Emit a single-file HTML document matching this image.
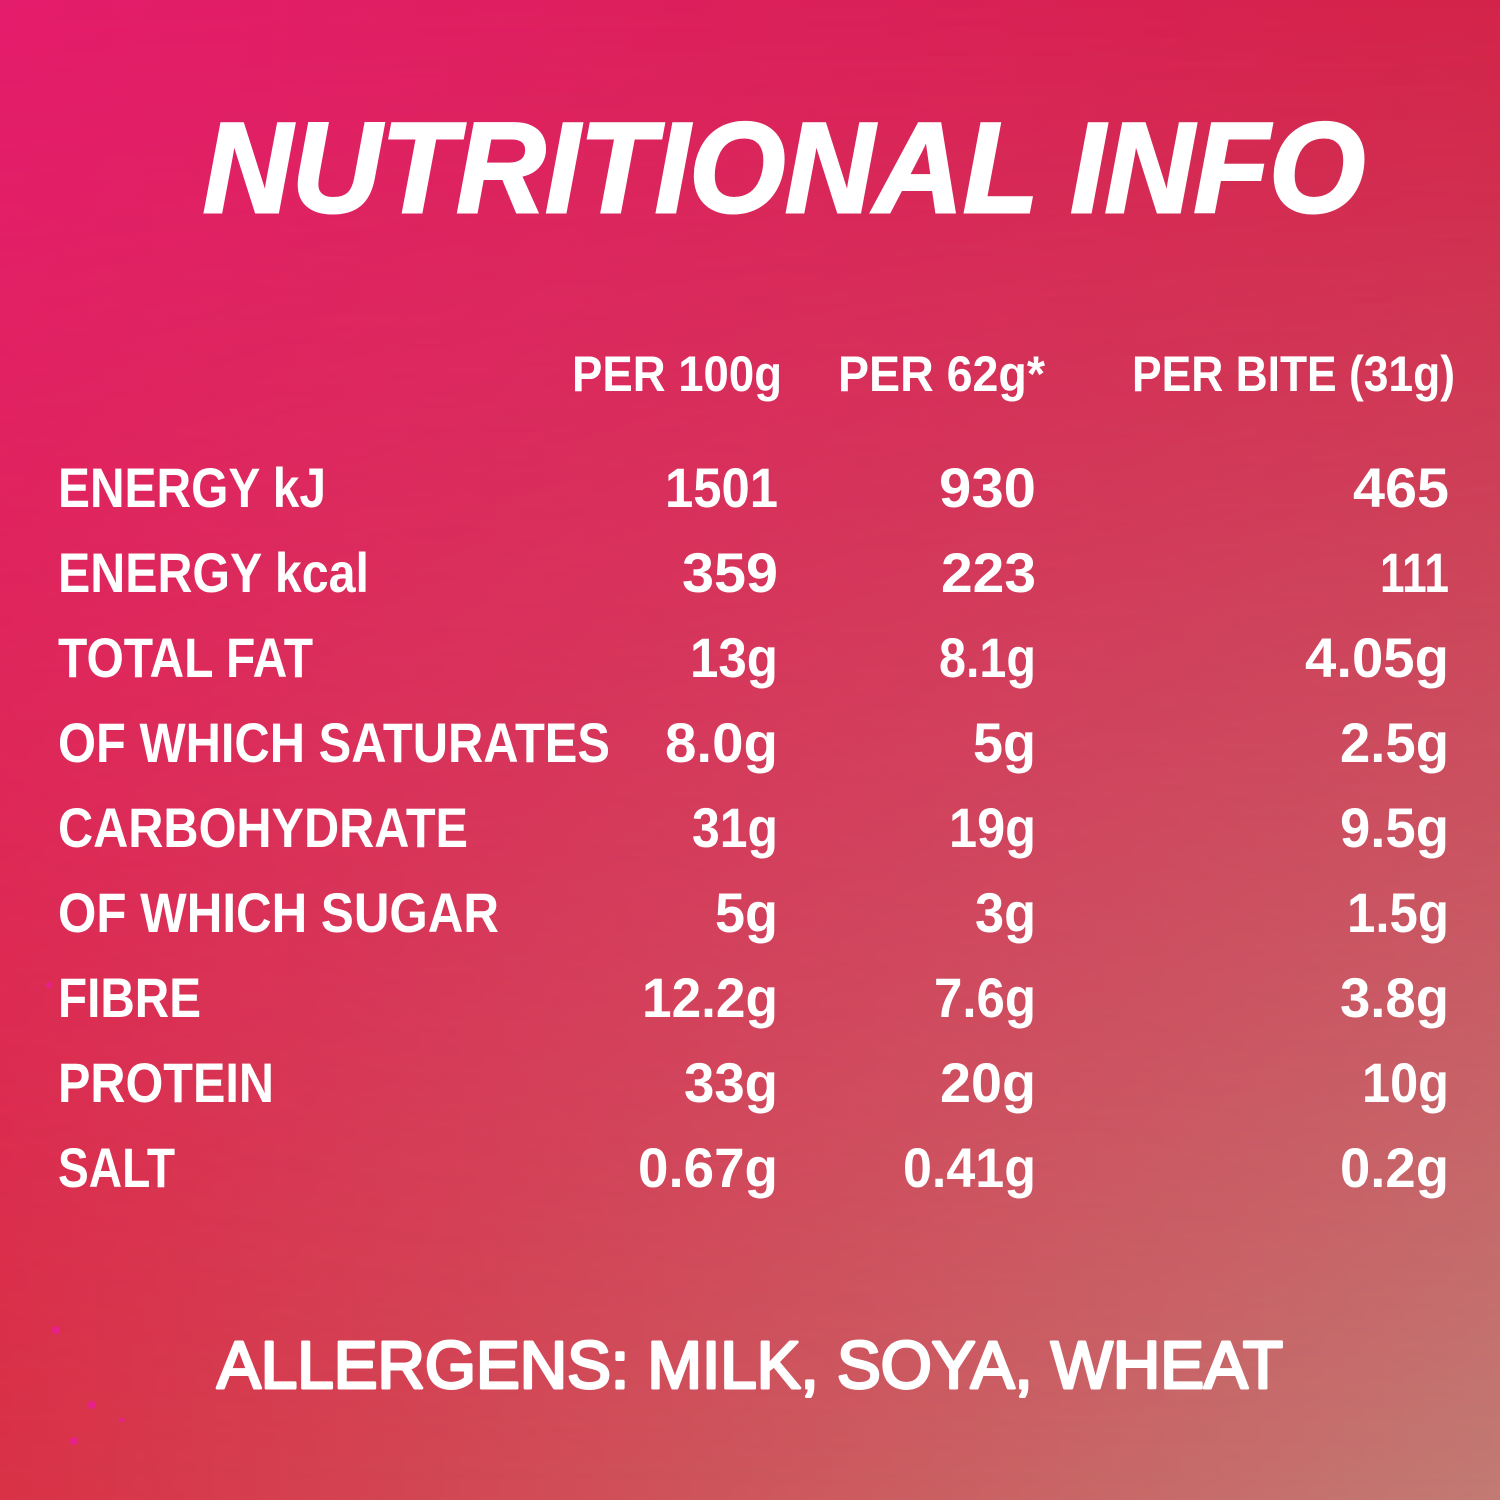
<!DOCTYPE html>
<html>
<head>
<meta charset="utf-8">
<style>
html,body{margin:0;padding:0;width:1500px;height:1500px;overflow:hidden;}
.wrap{position:relative;width:1500px;height:1500px;background:linear-gradient(to right,#d93246,#c27b74);}
.top{position:absolute;left:0;top:0;width:1500px;height:1500px;background:linear-gradient(to right,#e41c6c,#d32349);
-webkit-mask-image:linear-gradient(to bottom,#000,rgba(0,0,0,0));mask-image:linear-gradient(to bottom,#000,rgba(0,0,0,0));}
svg{position:absolute;left:0;top:0;}
text{fill:#fff;font-family:"Liberation Sans",Arial,sans-serif;font-weight:bold;}
</style>
</head>
<body>
<div class="wrap">
<div class="top"></div>
<svg width="1500" height="1500" viewBox="0 0 1500 1500" xmlns="http://www.w3.org/2000/svg">
  <text x="203" y="212" font-size="128" font-style="italic" textLength="1162" lengthAdjust="spacingAndGlyphs" stroke="#fff" stroke-width="3">NUTRITIONAL INFO</text>

  <g font-size="50">
    <text x="572" y="391" textLength="210" lengthAdjust="spacingAndGlyphs">PER 100g</text>
    <text x="838" y="391" textLength="207" lengthAdjust="spacingAndGlyphs">PER 62g*</text>
    <text x="1132" y="391" textLength="323" lengthAdjust="spacingAndGlyphs">PER BITE (31g)</text>
  </g>

  <g font-size="56">
    <text x="58" y="507" textLength="268" lengthAdjust="spacingAndGlyphs">ENERGY kJ</text>
    <text x="58" y="592" textLength="311" lengthAdjust="spacingAndGlyphs">ENERGY kcal</text>
    <text x="58" y="677" textLength="255" lengthAdjust="spacingAndGlyphs">TOTAL FAT</text>
    <text x="58" y="762" textLength="552" lengthAdjust="spacingAndGlyphs">OF WHICH SATURATES</text>
    <text x="58" y="847" textLength="410" lengthAdjust="spacingAndGlyphs">CARBOHYDRATE</text>
    <text x="58" y="932" textLength="441" lengthAdjust="spacingAndGlyphs">OF WHICH SUGAR</text>
    <text x="58" y="1017" textLength="143" lengthAdjust="spacingAndGlyphs">FIBRE</text>
    <text x="58" y="1102" textLength="216" lengthAdjust="spacingAndGlyphs">PROTEIN</text>
    <text x="58" y="1187" textLength="117" lengthAdjust="spacingAndGlyphs">SALT</text>

    <text x="665" y="507" textLength="113" lengthAdjust="spacingAndGlyphs">1501</text>
    <text x="682" y="592" textLength="96" lengthAdjust="spacingAndGlyphs">359</text>
    <text x="690" y="677" textLength="88" lengthAdjust="spacingAndGlyphs">13g</text>
    <text x="665" y="762" textLength="113" lengthAdjust="spacingAndGlyphs">8.0g</text>
    <text x="692" y="847" textLength="86" lengthAdjust="spacingAndGlyphs">31g</text>
    <text x="715" y="932" textLength="63" lengthAdjust="spacingAndGlyphs">5g</text>
    <text x="642" y="1017" textLength="136" lengthAdjust="spacingAndGlyphs">12.2g</text>
    <text x="684" y="1102" textLength="94" lengthAdjust="spacingAndGlyphs">33g</text>
    <text x="638" y="1187" textLength="140" lengthAdjust="spacingAndGlyphs">0.67g</text>

    <text x="939" y="507" textLength="97" lengthAdjust="spacingAndGlyphs">930</text>
    <text x="941" y="592" textLength="95" lengthAdjust="spacingAndGlyphs">223</text>
    <text x="939" y="677" textLength="97" lengthAdjust="spacingAndGlyphs">8.1g</text>
    <text x="973" y="762" textLength="63" lengthAdjust="spacingAndGlyphs">5g</text>
    <text x="949" y="847" textLength="87" lengthAdjust="spacingAndGlyphs">19g</text>
    <text x="975" y="932" textLength="61" lengthAdjust="spacingAndGlyphs">3g</text>
    <text x="934" y="1017" textLength="102" lengthAdjust="spacingAndGlyphs">7.6g</text>
    <text x="940" y="1102" textLength="96" lengthAdjust="spacingAndGlyphs">20g</text>
    <text x="903" y="1187" textLength="133" lengthAdjust="spacingAndGlyphs">0.41g</text>

    <text x="1353" y="507" textLength="96" lengthAdjust="spacingAndGlyphs">465</text>
    <text x="1380" y="592" textLength="69" lengthAdjust="spacingAndGlyphs">111</text>
    <text x="1305" y="677" textLength="144" lengthAdjust="spacingAndGlyphs">4.05g</text>
    <text x="1340" y="762" textLength="109" lengthAdjust="spacingAndGlyphs">2.5g</text>
    <text x="1340" y="847" textLength="109" lengthAdjust="spacingAndGlyphs">9.5g</text>
    <text x="1347" y="932" textLength="102" lengthAdjust="spacingAndGlyphs">1.5g</text>
    <text x="1340" y="1017" textLength="109" lengthAdjust="spacingAndGlyphs">3.8g</text>
    <text x="1362" y="1102" textLength="87" lengthAdjust="spacingAndGlyphs">10g</text>
    <text x="1340" y="1187" textLength="109" lengthAdjust="spacingAndGlyphs">0.2g</text>
  </g>

  <text x="217" y="1388" font-size="67" style="font-weight:normal" stroke="#fff" stroke-width="3" stroke-linejoin="round" textLength="1066" lengthAdjust="spacingAndGlyphs">ALLERGENS: MILK, SOYA, WHEAT</text>

  <g fill="#e8208a">
    <circle cx="56" cy="1330" r="4"/>
    <circle cx="92" cy="1405" r="4"/>
    <circle cx="74" cy="1441" r="4"/>
    <circle cx="122" cy="1420" r="2.5"/>
    <circle cx="49" cy="985" r="3"/>
  </g>
</svg>
</div>
</body>
</html>
